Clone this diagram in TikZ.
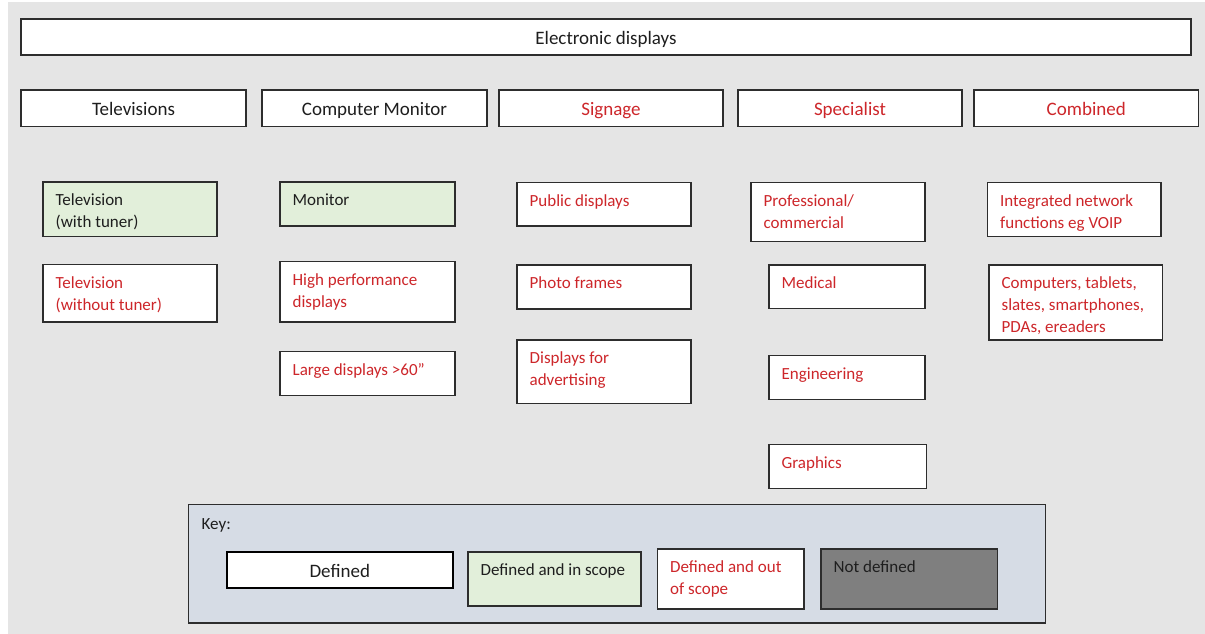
\documentclass[tikz,border=0pt]{standalone}
\usepackage{fontspec}
\setmainfont{Carlito}
\usetikzlibrary{fit}

\definecolor{pagegrey}{RGB}{229,229,229}
\definecolor{keyfill}{RGB}{214,220,229}
\definecolor{inscope}{RGB}{226,239,218}
\definecolor{undefgrey}{RGB}{127,127,127}
\definecolor{outred}{RGB}{205,38,42}
\definecolor{inktext}{RGB}{30,30,30}
\definecolor{edge}{RGB}{45,45,45}

% multi-line cell text whose baseline is that of its first line
\newcommand\lines[1]{\begin{tabular}[t]{@{}l@{}}#1\end{tabular}}

% a box spanning (x1,y1)-(x2,y2) with a top-left label
% #1 name, #2 x1, #3 y1, #4 x2, #5 y2, #6 box style, #7 text style, #8 text
\newcommand\cellbox[8]{%
  \node[#6, fit={(#2,#3) (#4,#5)}] (#1) {};
  \node[#7, anchor=base west] (#1-l) at ([shift={(13pt,-24.3pt)}]#1.north west) {\lines{#8}};}

% a box spanning (x1,y1)-(x2,y2) with centred text
\newcommand\headbox[8]{%
  \node[#6, fit={(#2,#3) (#4,#5)}] (#1) {};
  \node[#7, anchor=base] (#1-l) at ([yshift=-7.4pt]#1.center) {#8};}

\begin{document}
\begin{tikzpicture}[x=1pt,y=-1pt,
  plain/.style={draw=edge, line width=1.1pt, fill=white, inner sep=0pt},
  green/.style={plain, fill=inscope},
  dark/.style={plain, fill=undefgrey},
  thick box/.style={plain, line width=2pt, draw=black},
  keyframe/.style={draw=edge, line width=1.1pt, fill=keyfill, inner sep=0pt},
  bigtxt/.style={inner sep=0pt, font=\fontsize{19}{23}\selectfont, text=inktext},
  bigred/.style={bigtxt, text=outred},
  txt/.style={inner sep=0pt, font=\fontsize{17}{22}\selectfont, text=inktext},
  red/.style={txt, text=outred}]

\useasboundingbox (0,0) rectangle (1205,634);
\fill[white] (0,0) rectangle (1205,634);
\fill[pagegrey] (8,2) rectangle (1205,634);

% title and column headings
\headbox{title}{21}{19}{1191}{55}{plain}{bigtxt}{Electronic displays}
\headbox{tv}{21}{90}{246}{126.5}{plain}{bigtxt}{Televisions}
\headbox{mon}{262}{90}{487}{126.5}{plain}{bigtxt}{Computer Monitor}
\headbox{sign}{499}{90}{723}{126.5}{plain}{bigred}{Signage}
\headbox{spec}{738}{90}{962}{126.5}{plain}{bigred}{Specialist}
\headbox{comb}{974}{90}{1198.5}{126.5}{plain}{bigred}{Combined}

% televisions
\cellbox{tvtuner}{43}{182}{217}{236.5}{green}{txt}{Television\\(with tuner)}
\cellbox{tvnotuner}{43}{264.5}{217}{322}{plain}{red}{Television\\(without tuner)}

% computer monitors
\cellbox{monitor}{280}{182}{455}{226}{green}{txt}{Monitor}
\cellbox{highperf}{280}{261.5}{455}{322}{plain}{red}{High performance\\displays}
\cellbox{large}{280}{351.5}{455}{395.5}{plain}{red}{Large displays >60”}

% signage
\cellbox{public}{517}{182.5}{691}{226}{plain}{red}{Public displays}
\cellbox{photo}{517}{265}{691}{309}{plain}{red}{Photo frames}
\cellbox{advert}{517}{340}{691}{403.5}{plain}{red}{Displays for\\advertising}

% specialist
\cellbox{prof}{751}{182.5}{925}{241.5}{plain}{red}{Professional/\\commercial}
\cellbox{medical}{769}{265}{925}{308.5}{plain}{red}{Medical}
\cellbox{engineering}{769}{355.5}{925}{399.5}{plain}{red}{Engineering}
\cellbox{graphics}{769}{444.5}{926.5}{488.5}{plain}{red}{Graphics}

% combined
\cellbox{network}{987.5}{182.5}{1161}{236.5}{plain}{red}{Integrated network\\functions eg VOIP}
\cellbox{devices}{989}{265}{1162.5}{340}{plain}{red}{Computers, tablets,\\slates, smartphones,\\PDAs, ereaders}

% key
\node[keyframe, fit={(188.5,504.5) (1045.5,623)}] (key) {};
\node[txt, anchor=base west] (key-l) at (201.5,529.5) {Key:};
\headbox{kdefined}{227}{552}{452.5}{588}{thick box}{bigtxt}{Defined}
\cellbox{kinscope}{468}{552}{641}{606}{green}{txt}{Defined and in scope}
\cellbox{koutscope}{657.5}{549}{804}{609}{plain}{red}{Defined and out\\of scope}
\cellbox{kundef}{821}{549}{997.5}{609}{dark}{txt}{Not defined}

\end{tikzpicture}
\end{document}
